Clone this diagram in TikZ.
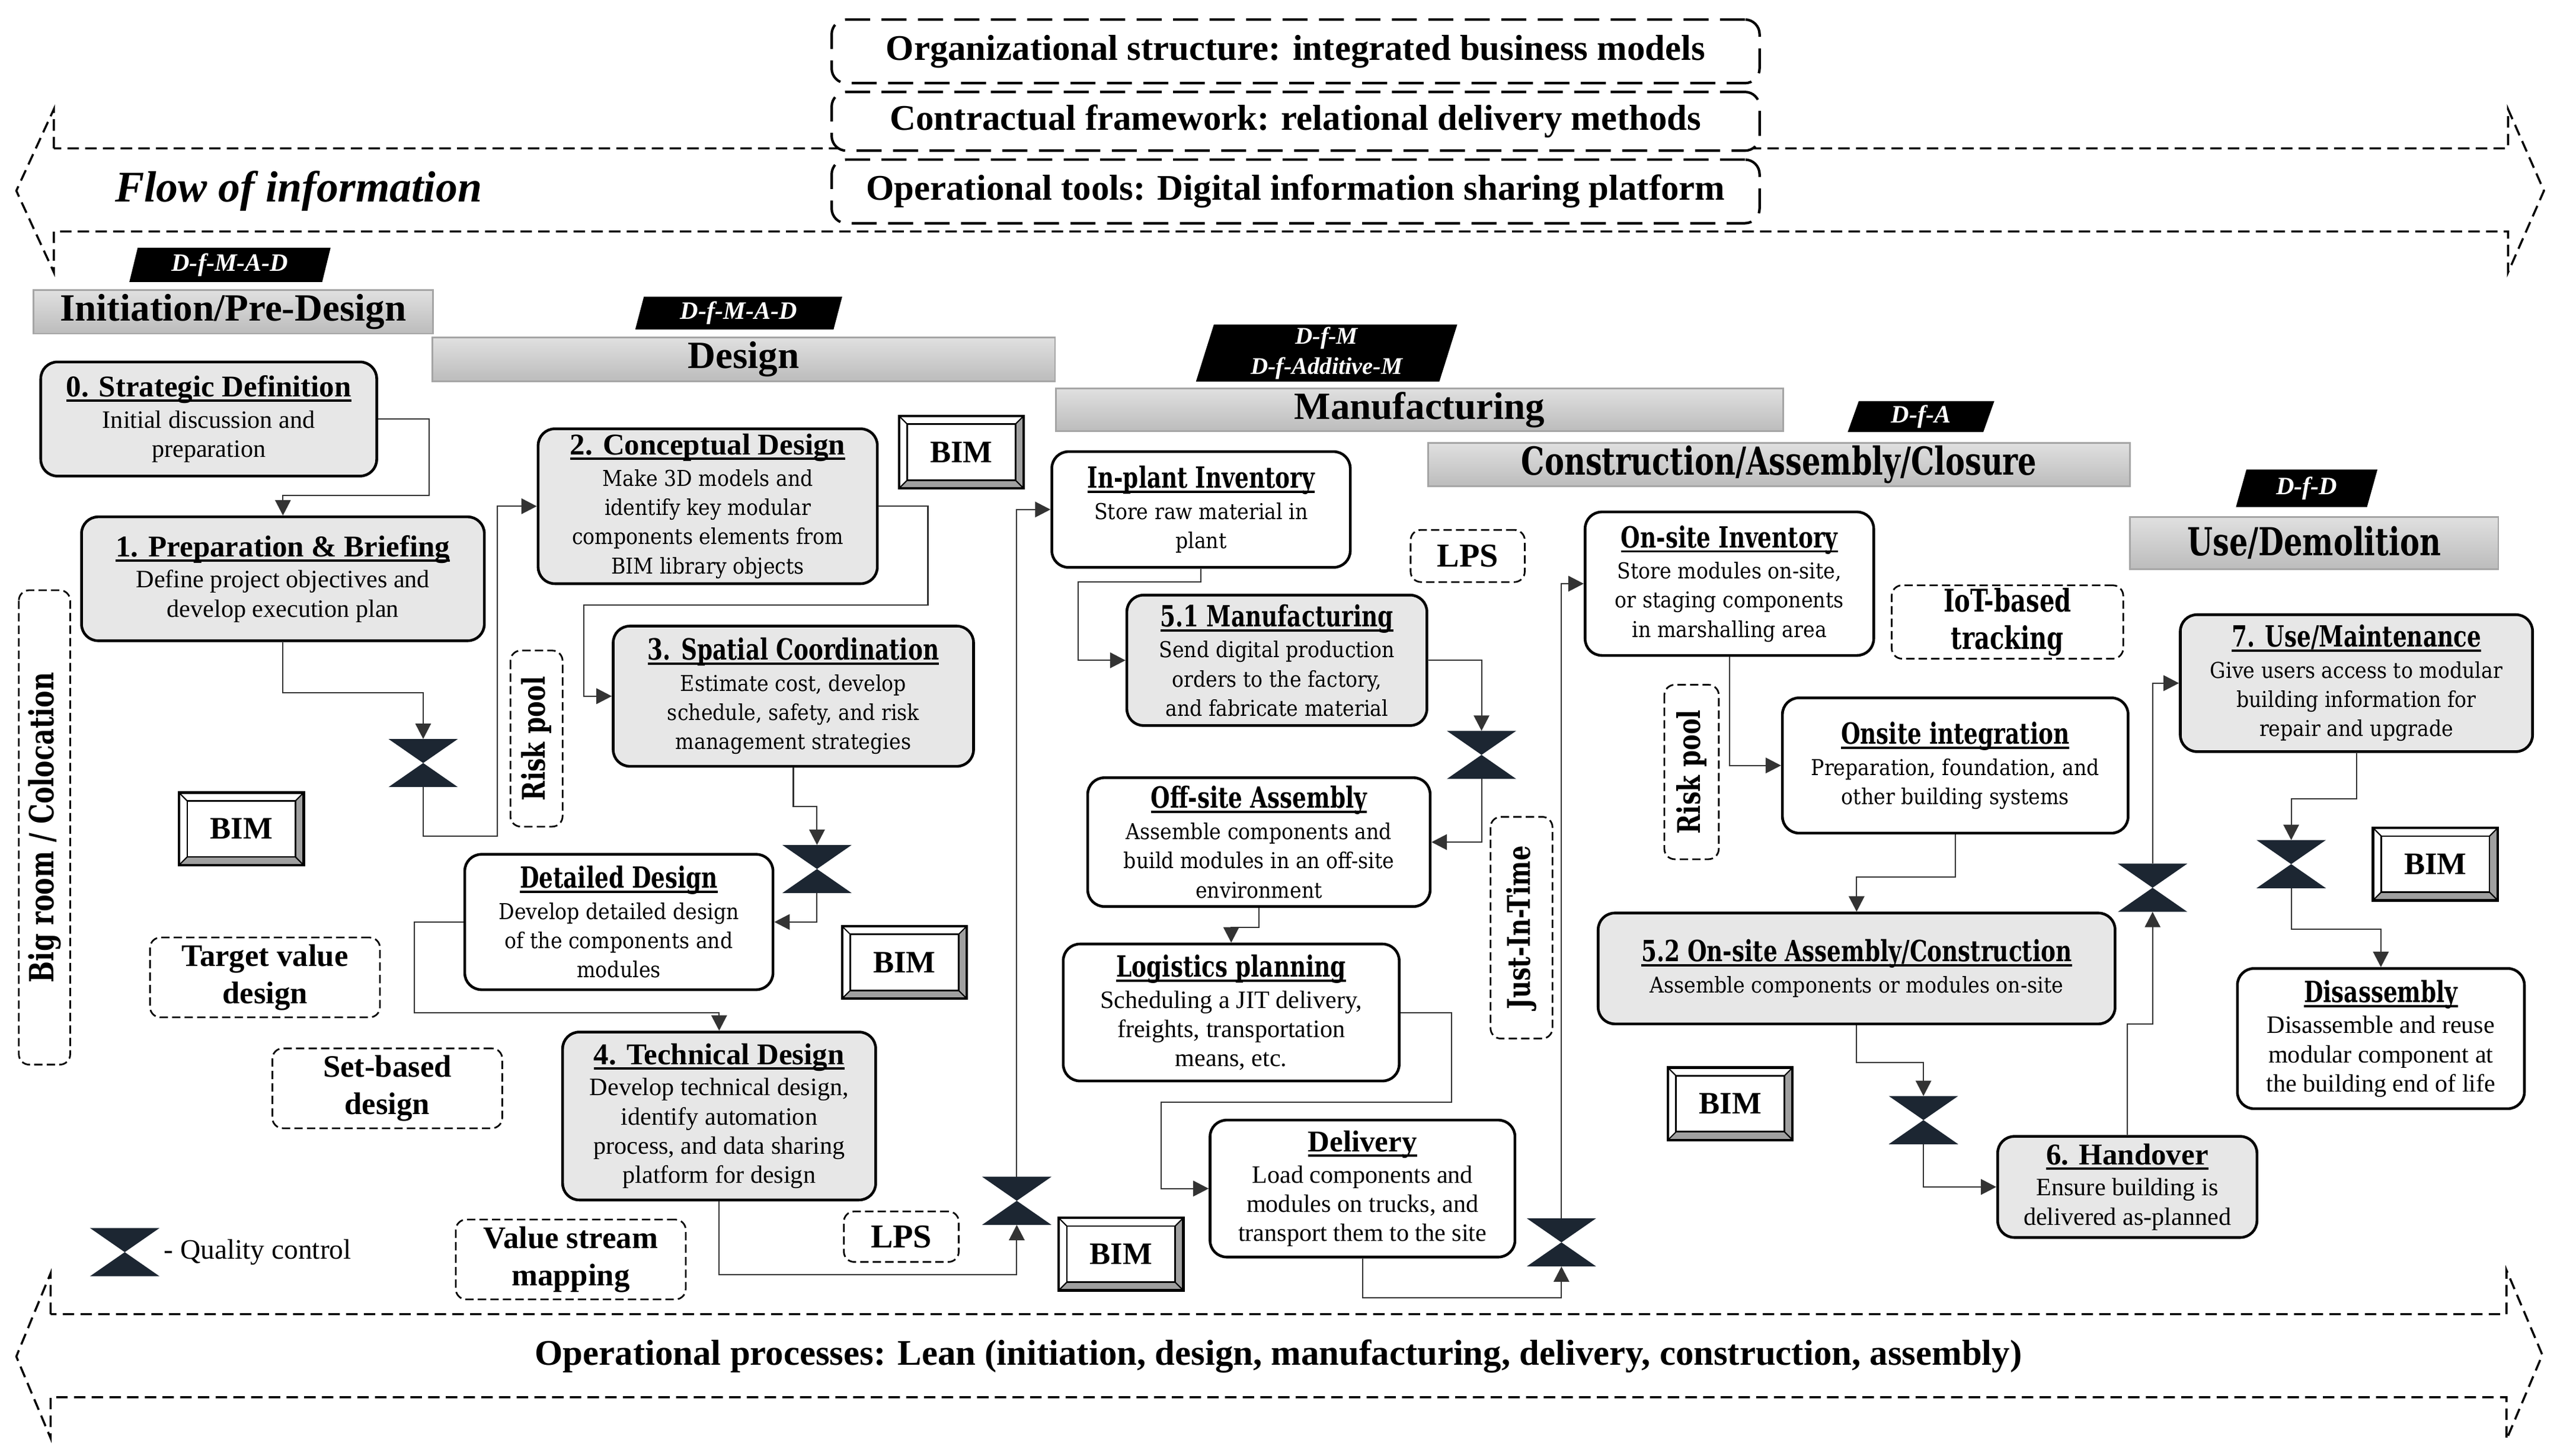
\documentclass[tikz,border=0pt]{standalone}
\usepackage{fontspec}
\setmainfont{Liberation Serif}
\newfontfamily\centr{DejaVu Serif}[FakeStretch=0.9]
\newfontfamily\centb{DejaVu Serif}[FakeStretch=0.76]
\usetikzlibrary{shapes.geometric, arrows.meta, calc}
\definecolor{qcnavy}{RGB}{28,38,50}
\definecolor{boxgray}{RGB}{231,231,231}
\definecolor{bandtop}{RGB}{224,224,224}
\definecolor{bandbot}{RGB}{188,188,188}
\definecolor{bandline}{RGB}{165,165,165}
\definecolor{bevelgray}{RGB}{160,160,160}

\newcommand{\pxu}{0.02751cm}
\newsavebox\ulinbox
\newcommand{\ulin}[1]{\sbox\ulinbox{#1}\rlap{\rule[-2.4pt]{\wd\ulinbox}{1.1pt}}\usebox\ulinbox}
\newcommand{\ttitle}[1]{{\rmfamily\bfseries\fontsize{14.5}{16}\selectfont\ulin{#1}}}
\newcommand{\ctitle}[1]{{\centb\bfseries\fontsize{14}{16}\selectfont\ulin{#1}}}

\begin{document}
\begin{tikzpicture}[x=0.02751cm, y=-0.02751cm,
  sz/.style 2 args={minimum width=#1*\pxu, minimum height=#2*\pxu},
  proc/.style={draw, line width=1.3pt, rounded corners=8pt, align=center, inner sep=1pt},
  procg/.style={proc, fill=boxgray},
  procw/.style={proc, fill=white},
  tbody/.style={font=\fontsize{12}{14}\selectfont},
  cbody/.style={font=\centr\fontsize{10.5}{14}\selectfont},
  tbox/.style={draw, line width=1.2pt, dash pattern=on 12pt off 5.5pt, rounded corners=7pt, fill=white, inner sep=0pt, font=\bfseries\fontsize{17.3}{20}\selectfont},
  band/.style={draw=bandline, line width=0.8pt, top color=bandtop, bottom color=bandbot, inner sep=0pt, font=\bfseries\fontsize{18.5}{20}\selectfont},
  cband/.style={band, font=\centb\bfseries\fontsize{18.5}{20}\selectfont},
  tag/.style={trapezium, trapezium left angle=77, trapezium right angle=103, trapezium stretches=true, fill=black, text=white, inner sep=0pt, align=center, font=\bfseries\itshape\fontsize{12}{15}\selectfont},
  dlab/.style={draw, line width=0.8pt, dash pattern=on 4pt off 2pt, rounded corners=5pt, align=center, inner sep=0pt, font=\bfseries\fontsize{15}{18}\selectfont},
  cdlab/.style={dlab, font=\centb\bfseries\fontsize{15}{18}\selectfont},
  bim/.style={fill=white, sz={76}{44}, inner sep=0pt, font=\bfseries\fontsize{15}{18}\selectfont},
  qc/.style={sz={42}{29}, inner sep=0pt},
  conn/.style={draw=black!80, line width=0.6pt, -{Triangle[length=7.4pt, width=7.5pt]}},
  flowarrow/.style={draw, line width=1pt, dash pattern=on 5.5pt off 3pt}
]
\useasboundingbox (0,0) rectangle (1568,893);

% information flow and framework
\draw[flowarrow] (33,91) -- (33,67) -- (10,117) -- (33,167) -- (33,142) -- (1538,142) -- (1538,167) -- (1560,117) -- (1538,67) -- (1538,91) -- cycle;
\node[tbox, sz={569}{39}] (org) at (794.5,31.5) {Organizational structure: integrated business models};
\node[tbox, sz={569}{36}] (contract) at (794.5,74.4) {Contractual framework: relational delivery methods};
\node[tbox, sz={569}{39}] (tools) at (794.5,117.4) {Operational tools: Digital information sharing platform};
\node[anchor=west, font=\bfseries\itshape\fontsize{21}{24}\selectfont] (flow) at (66,117) {Flow of information};

% lean processes
\draw[flowarrow] (31,806) -- (31,781) -- (10,832) -- (31,882) -- (31,857) -- (1537,857) -- (1537,883) -- (1559,831) -- (1537,779) -- (1537,806) -- cycle;
\node[font=\bfseries\fontsize{17.3}{20}\selectfont] (lean) at (784,832) {Operational processes: Lean (initiation, design, manufacturing, delivery, construction, assembly)};

% phases
\node[band, sz={245}{26.6}] (ph0) at (143,191.3) {Initiation/Pre-Design};
\node[band, sz={382}{26.7}] (ph1) at (456,220.4) {Design};
\node[band, sz={446}{26.2}] (ph2) at (870.5,251.4) {Manufacturing};
\node[cband, sz={430.5}{26.7}] (ph3) at (1091,285) {Construction/Assembly/Closure};
\node[cband, sz={226}{32}] (ph4) at (1419,333) {Use/Demolition};

\node[tag, sz={124}{21}] (t0) at (141,162.5) {D-f-M-A-D};
\node[tag, sz={127.5}{20}] (t1) at (453,192) {D-f-M-A-D};
\node[tag, sz={161}{35}, font=\bfseries\itshape\fontsize{11.5}{14.5}\selectfont] (t2) at (813.5,216.5) {D-f-M\\D-f-Additive-M};
\node[tag, sz={90}{19}] (t3) at (1178,255.5) {D-f-A};
\node[tag, sz={87}{23}] (t4) at (1414.5,299.5) {D-f-D};

% stages
\node[procg, tbody, sz={206}{70}] (s0) at (128,257) {\ttitle{0. Strategic Definition}\\[1pt] Initial discussion and\\ preparation};
\node[procg, tbody, sz={247}{76}] (s1) at (173.5,355) {\ttitle{1. Preparation \& Briefing}\\[1pt] Define project objectives and\\ develop execution plan};
\node[procg, cbody, sz={208}{95}] (s2) at (434,310.5) {\ttitle{2. Conceptual Design}\\[1pt] Make 3D models and\\ identify key modular\\ components elements from\\ BIM library objects};
\node[procg, cbody, sz={221}{86}] (s3) at (486.5,427) {\ctitle{3. Spatial Coordination}\\[1pt] Estimate cost, develop\\ schedule, safety, and risk\\ management strategies};
\node[procw, cbody, sz={189}{83}] (dd) at (379.5,565.5) {\ctitle{Detailed Design}\\[1pt] Develop detailed design\\ of the components and\\ modules};
\node[procg, tbody, sz={192}{103}] (s4) at (441,684.5) {\ttitle{4. Technical Design}\\[1pt] Develop technical design,\\ identify automation\\ process, and data sharing\\ platform for design};
\node[procw, cbody, sz={183}{71}] (inv) at (736.5,312.5) {\ctitle{In-plant Inventory}\\[1pt] Store raw material in\\ plant};
\node[procg, cbody, sz={184}{80}] (m51) at (783,405) {\ctitle{5.1 Manufacturing}\\[1pt] Send digital production\\ orders to the factory,\\ and fabricate material};
\node[procw, cbody, sz={210}{79}] (off) at (772,516.5) {\ctitle{Off-site Assembly}\\[1pt] Assemble components and\\ build modules in an off-site\\ environment};
\node[procw, tbody, sz={206}{84}] (log) at (755,621) {\ctitle{Logistics planning}\\[1pt] Scheduling a JIT delivery,\\ freights, transportation\\ means, etc.};
\node[procw, tbody, sz={187}{84}] (del) at (835.5,729) {\ttitle{Delivery}\\[1pt] Load components and\\ modules on trucks, and\\ transport them to the site};
\node[procw, cbody, sz={177}{88}] (osi) at (1060.5,358) {\ctitle{On-site Inventory}\\[1pt] Store modules on-site,\\ or staging components\\ in marshalling area};
\node[procw, cbody, sz={212}{83}] (oint) at (1199,469.5) {\ctitle{Onsite integration}\\[1pt] Preparation, foundation, and\\ other building systems};
\node[procg, cbody, sz={317}{68}] (a52) at (1138.5,594) {\ctitle{5.2 On-site Assembly/Construction}\\[1pt] Assemble components or modules on-site};
\node[procg, tbody, sz={159}{62}] (h6) at (1304.5,728) {\ttitle{6. Handover}\\[1pt] Ensure building is\\ delivered as-planned};
\node[procg, cbody, sz={216}{84}] (u7) at (1445,419) {\ctitle{7. Use/Maintenance}\\[1pt] Give users access to modular\\ building information for\\ repair and upgrade};
\node[procw, tbody, sz={176}{86}] (dis) at (1460,637) {\ctitle{Disassembly}\\[1pt] Disassemble and reuse\\ modular component at\\ the building end of life};

% lean tools
\node[cdlab, sz={291}{31.5}, rotate=90, font=\centb\bfseries\fontsize{16}{18}\selectfont] (bigroom) at (27.3,507.5) {Big room / Colocation};
\node[cdlab, sz={108}{32}, rotate=90] (risk1) at (329,453) {Risk pool};
\node[dlab, sz={141}{49}] (tvd) at (162.5,599.5) {Target value\\ design};
\node[dlab, sz={141}{49}] (sbd) at (237.5,667.5) {Set-based\\ design};
\node[dlab, sz={141}{49}] (vsm) at (350,772.5) {Value stream\\ mapping};
\node[dlab, sz={70.5}{31}, font=\bfseries\fontsize{16}{18}\selectfont] (lps1) at (552.7,758.5) {LPS};
\node[dlab, sz={70}{32}, font=\bfseries\fontsize{16}{18}\selectfont] (lps2) at (900,341) {LPS};
\node[cdlab, sz={136}{38}, rotate=90] (jit) at (933,569) {Just-In-Time};
\node[cdlab, sz={107}{33.4}, rotate=90] (risk2) at (1037.3,473.5) {Risk pool};
\node[cdlab, sz={142}{45}] (iot) at (1231,381.5) {IoT-based\\ tracking};

% BIM
\node[bim] (bim1) at (148,508.4) {BIM};
\node[bim] (bim2) at (589.5,277.3) {BIM};
\node[bim] (bim3) at (554.6,590.3) {BIM};
\node[bim] (bim4) at (687.4,769.2) {BIM};
\node[bim] (bim5) at (1061,677) {BIM};
\node[bim] (bim6) at (1493.4,530) {BIM};
\foreach \b in {bim1,bim2,bim3,bim4,bim5,bim6} {
  \coordinate (isw) at ($(\b.south west)+(0.14cm,0.14cm)$);
  \coordinate (ine) at ($(\b.north east)-(0.14cm,0.14cm)$);
  \fill[bevelgray] (\b.south west) -- (\b.south east) -- (\b.north east) -- (ine) -- (isw -| ine) -- (isw) -- cycle;
  \draw[line width=0.6pt] (\b.south west) -- (isw) (\b.north east) -- (ine) (\b.south east) -- (isw -| ine) (\b.north west) -- (isw |- ine);
  \draw[line width=0.8pt] (isw) rectangle (ine);
  \draw[line width=1.2pt] (\b.south west) rectangle (\b.north east);
}

% quality control
\node[qc] (qc1) at (259.5,468) {};
\node[qc] (qc2) at (501,533) {};
\node[qc] (qc3) at (908.5,463) {};
\node[qc] (qc4) at (623.5,736.5) {};
\node[qc] (qc5) at (957.5,762) {};
\node[qc] (qc6) at (1179.5,687) {};
\node[qc] (qc7) at (1320,544.5) {};
\node[qc] (qc8) at (1405,530) {};
\node[qc] (qcl) at (76.5,768) {};
\foreach \q in {qc1,qc2,qc3,qc4,qc5,qc6,qc7,qc8,qcl} {
  \fill[qcnavy] (\q.north west) -- (\q.north east) -- (\q.center) -- cycle
                (\q.south west) -- (\q.south east) -- (\q.center) -- cycle;
}
\node[anchor=west, font=\fontsize{13.5}{16}\selectfont] (qctext) at (96,768) {- Quality control};

% flow
\draw[conn] (s0.east) -| (263,304) -| (s1.north);
\draw[conn] (s1.south) -- ++(0,31) -| (qc1.north);
\draw[conn] (qc1.south) |- (305,513) |- (s2.west);
\draw[conn] (s2.east) -| (569,371) -- (358,371) |- (s3.west);
\draw[conn] (s3.south) -- ++(0,24) -| (qc2.north);
\draw[conn] (qc2.south) |- (dd.east);
\draw[conn] (dd.west) -| (254,621) -| (s4.north);
\draw[conn] (s4.south) -- ++(0,45) -| (qc4.south);
\draw[conn] (qc4.north) |- (inv.west);
\draw[conn] (inv.south) |- (661,357) |- (m51.west);
\draw[conn] (m51.east) -| (qc3.north);
\draw[conn] (qc3.south) |- (off.east);
\draw[conn] (off.south) -- ++(0,12) -| (log.north);
\draw[conn] (log.east) -| (890,676) -| (712,729) -- (del.west);
\draw[conn] (del.south) -- ++(0,24) -| (qc5.south);
\draw[conn] (qc5.north) |- (osi.west);
\draw[conn] (osi.south) |- (oint.west);
\draw[conn] (oint.south) -- ++(0,26) -| (a52.north);
\draw[conn] (a52.south) -- ++(0,23) -| (qc6.north);
\draw[conn] (qc6.south) |- (h6.west);
\draw[conn] (h6.north) -- ++(0,-68) -| (qc7.south);
\draw[conn] (qc7.north) |- (u7.west);
\draw[conn] (u7.south) -- ++(0,28) -| (qc8.north);
\draw[conn] (qc8.south) -- ++(0,25) -| (dis.north);
\end{tikzpicture}
\end{document}
